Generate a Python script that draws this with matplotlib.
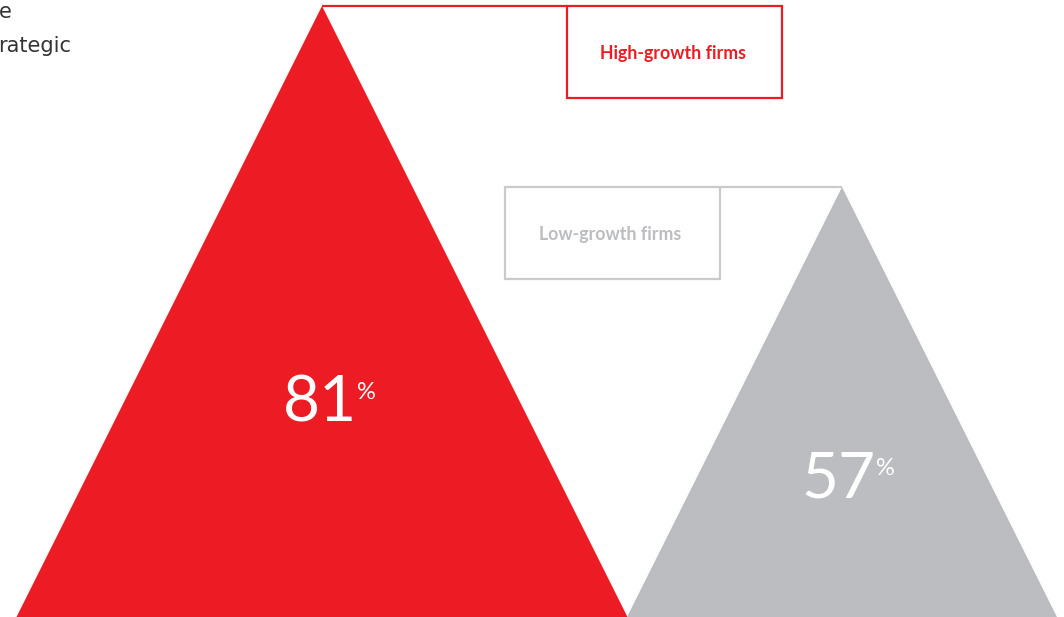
import matplotlib.pyplot as plt
from matplotlib.patches import Polygon, Rectangle

# data
groups = ["High-growth firms", "Low-growth firms"]
values = [81, 57]
colors = ["#ED1C24", "#BCBDC0"]
line_colors = ["#ED1C24", "#C9CACC"]
apex_x = [322, 842]

W, H = 1064, 617
px_per_unit = 611 / 81          # triangle height in pixels per percentage point

fig = plt.figure(figsize=(W / 100, H / 100), dpi=100)
ax = fig.add_axes([0, 0, 1, 1])
ax.set_xlim(0, W)
ax.set_ylim(0, H / px_per_unit)
ax.axis("off")


def py(p):
    # pixel row (from top) -> value units
    return (H - p) / px_per_unit


half_w = 0.5 * px_per_unit  # half base width in px per unit of height
for v, c, x in zip(values, colors, apex_x):
    tri = Polygon([(x - v * half_w, 0), (x, v), (x + v * half_w, 0)],
                  closed=True, facecolor=c, edgecolor="none")
    ax.add_patch(tri)

# label boxes with connector lines to apex
boxes = [(567, 782), (505, 720)]
for v, lc, x, (bx0, bx1), g, tc in zip(values, line_colors, apex_x, boxes, groups, ["#ED1C24", "#BCBDC0"]):
    top = v
    bottom = v - 92 / px_per_unit
    ax.add_patch(Rectangle((bx0, bottom), bx1 - bx0, top - bottom, fill=False,
                           edgecolor=lc, linewidth=1.6))
    xs = [x, bx0] if x < bx0 else [bx1, x]
    ax.plot(xs, [top, top], color=lc, linewidth=1.6, solid_capstyle="butt")
    ax.text((bx0 + bx1) / 2 - 2, (top + bottom) / 2 - 0.25, g, ha="center", va="center",
            color=tc, fontsize=12.8, fontweight="bold", family="Lato")

# big numbers
num_pos = [(320, py(403)), (839, py(479))]
for v, (nx, ny) in zip(values, num_pos):
    t = ax.text(nx, ny, str(v), ha="center", va="center", color="white",
                fontsize=46, family="Lato")
    ax.annotate("%", xy=(1, 1), xycoords=t, xytext=(0, -6), textcoords="offset points",
                ha="left", va="top", color="white", fontsize=17, family="Lato")

# intro text, cut off at the left edge as in the source layout
ax.text(-1, py(12), "e", ha="left", va="center", color="#333333", fontsize=15, family="DejaVu Sans")
ax.text(-2, py(46), "rategic", ha="left", va="center", color="#333333", fontsize=15, family="DejaVu Sans")

fig.savefig("out.png", dpi=100)
